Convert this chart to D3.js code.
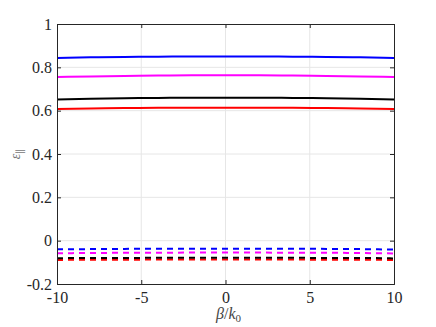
<!DOCTYPE html>
<html>
<head>
<meta charset="utf-8">
<script src="https://cdn.jsdelivr.net/npm/d3@7"></script>
<style>
body { margin: 0; background: #fff; }
svg text { font-family: "Times New Roman", "Liberation Serif", serif !important; }
</style>
</head>
<body>
<div id="chart"></div>
<script>
// beta/k0 samples
var betas = [-10, -8, -6, -4, -2, 0, 2, 4, 6, 8, 10];

// solid curves
var blueSolid    = [0.843, 0.846, 0.848, 0.849, 0.850, 0.850, 0.850, 0.849, 0.848, 0.846, 0.843];
var magentaSolid = [0.755, 0.758, 0.760, 0.762, 0.763, 0.763, 0.763, 0.762, 0.760, 0.758, 0.755];
var blackSolid   = [0.652, 0.655, 0.657, 0.659, 0.660, 0.660, 0.660, 0.659, 0.657, 0.655, 0.652];
var redSolid     = [0.608, 0.610, 0.612, 0.613, 0.614, 0.614, 0.614, 0.613, 0.612, 0.610, 0.608];

// dashed curves
var blueDash    = [-0.040, -0.039, -0.038, -0.037, -0.037, -0.037, -0.037, -0.037, -0.038, -0.039, -0.041];
var magentaDash = [-0.058, -0.057, -0.056, -0.056, -0.055, -0.055, -0.055, -0.056, -0.056, -0.057, -0.059];
var blackDash   = [-0.081, -0.080, -0.080, -0.079, -0.079, -0.079, -0.079, -0.079, -0.080, -0.080, -0.082];
var redDash     = [-0.089, -0.088, -0.088, -0.087, -0.087, -0.087, -0.087, -0.087, -0.088, -0.088, -0.089];

var xTicks = [-10, -5, 0, 5, 10];
var yTicks = [-0.2, 0, 0.2, 0.4, 0.6, 0.8, 1];

var series = [
    {vals: blueSolid, color: "#0000ff", dash: null},
    {vals: magentaSolid, color: "#ff00ff", dash: null},
    {vals: blackSolid, color: "#000000", dash: null},
    {vals: redSolid, color: "#ff0000", dash: null},
    {vals: redDash, color: "#ff0000", dash: "6,5"},
    {vals: blackDash, color: "#000000", dash: "6,5"},
    {vals: magentaDash, color: "#ff00ff", dash: "6,5"},
    {vals: blueDash, color: "#0000ff", dash: "6,5"}
];

var W = 436, H = 327;
var m = {left: 57, right: 42, top: 24, bottom: 43};
var svg = d3.select("#chart").append("svg")
    .attr("width", W)
    .attr("height", H);

var x = d3.scaleLinear().domain([-10, 10]).range([m.left, W - m.right]);
var y = d3.scaleLinear().domain([-0.2, 1]).range([H - m.bottom, m.top]);

var axisColor = "#262626";
var fmt = d => String(Math.round(d * 10) / 10); // plain hyphen minus like the original

// grid
svg.append("g").selectAll("line")
    .data(xTicks.slice(1, -1)).enter().append("line")
    .attr("x1", d => x(d)).attr("x2", d => x(d))
    .attr("y1", y(-0.2)).attr("y2", y(1))
    .attr("stroke", "#e6e6e6").attr("stroke-width", 1);
svg.append("g").selectAll("line")
    .data(yTicks.slice(1, -1)).enter().append("line")
    .attr("y1", d => y(d)).attr("y2", d => y(d))
    .attr("x1", x(-10)).attr("x2", x(10))
    .attr("stroke", "#e6e6e6").attr("stroke-width", 1);

// lines
var line = d3.line()
    .x((d, i) => x(betas[i]))
    .y(d => y(d))
    .curve(d3.curveMonotoneX);

svg.append("g").selectAll("path")
    .data(series).enter().append("path")
    .attr("d", d => line(d.vals))
    .attr("fill", "none")
    .attr("stroke", d => d.color)
    .attr("stroke-width", 2)
    .attr("stroke-dasharray", d => d.dash);

// axes, ticks inside
var tl = 4;
svg.append("g")
    .attr("class", "ax")
    .attr("transform", "translate(0," + y(-0.2) + ")")
    .call(d3.axisBottom(x).tickValues(xTicks).tickSize(-tl).tickPadding(8).tickFormat(fmt));
svg.append("g")
    .attr("transform", "translate(0," + y(1) + ")")
    .call(d3.axisTop(x).tickValues(xTicks).tickSize(-tl).tickFormat(""));
svg.append("g")
    .attr("class", "ax")
    .attr("transform", "translate(" + x(-10) + ",0)")
    .call(d3.axisLeft(y).tickValues(yTicks).tickSize(-tl).tickPadding(5).tickFormat(fmt));
svg.append("g")
    .attr("transform", "translate(" + x(10) + ",0)")
    .call(d3.axisRight(y).tickValues(yTicks).tickSize(-tl).tickFormat(""));

svg.selectAll(".ax text").attr("font-size", 16).attr("fill", axisColor);
svg.selectAll(".domain").attr("stroke", axisColor);
svg.selectAll(".tick line").attr("stroke", axisColor);

// x label
var xl = svg.append("text")
    .attr("x", x(0) + 3).attr("y", 319)
    .attr("text-anchor", "middle")
    .attr("font-size", 16)
    .attr("fill", "#444");
xl.append("tspan").attr("font-style", "italic").text("β");
xl.append("tspan").text("/");
xl.append("tspan").attr("font-style", "italic").text("k");
xl.append("tspan").attr("font-size", 11).attr("dy", 3).text("0");

// y label
var yl = svg.append("text")
    .attr("transform", "translate(20," + y(0.4) + ") rotate(-90)")
    .attr("text-anchor", "middle")
    .attr("font-size", 14)
    .attr("fill", "#777");
yl.append("tspan").attr("font-style", "italic").text("ε");
yl.append("tspan").attr("font-size", 10).attr("dy", 3).text("∥");
</script>
</body>
</html>
